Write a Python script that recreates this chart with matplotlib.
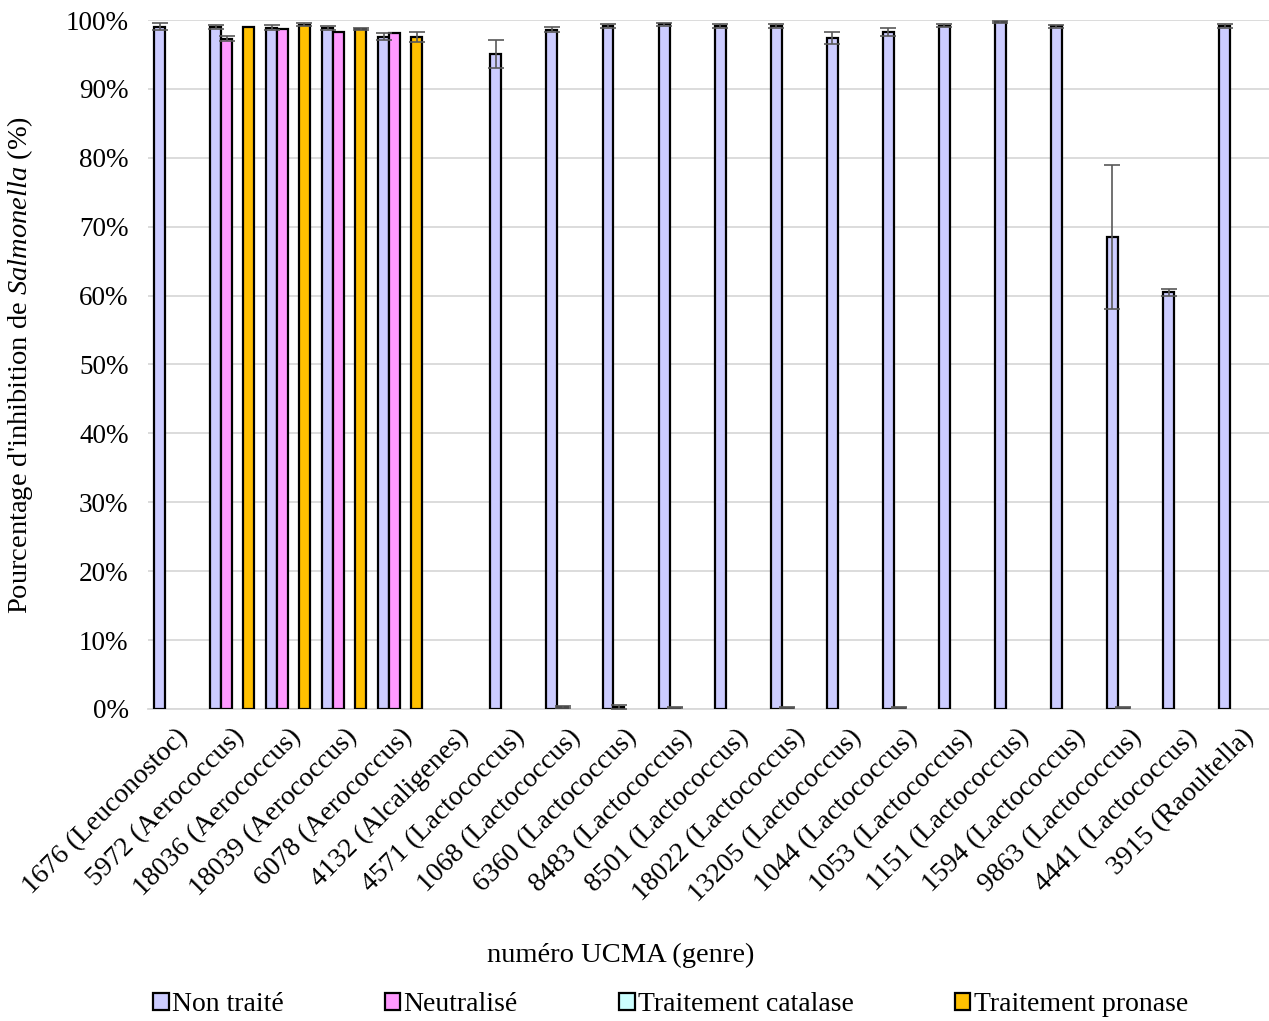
import numpy as np
import matplotlib.pyplot as plt
from matplotlib.ticker import PercentFormatter
from matplotlib.patches import Patch

# ─── Data ────────────────────────────────────────────────────────────────
STRAINS = ["1676 (Leuconostoc)", "5972 (Aerococcus)", "18036 (Aerococcus)",
           "18039 (Aerococcus)", "6078 (Aerococcus)", "4132 (Alcaligenes)",
           "4571 (Lactococcus)", "1068 (Lactococcus)", "6360 (Lactococcus)",
           "8483 (Lactococcus)", "8501 (Lactococcus)", "18022 (Lactococcus)",
           "13205 (Lactococcus)", "1044 (Lactococcus)", "1053 (Lactococcus)",
           "1151 (Lactococcus)", "1594 (Lactococcus)", "9863 (Lactococcus)",
           "4441 (Lactococcus)", "3915 (Raoultella)"]

non_traite     = [99.0, 99.0, 98.9, 98.9, 97.6, 0, 95.1, 98.6, 99.1, 99.4,
                  99.1, 99.1, 97.4, 98.3, 99.2, 99.7, 99.1, 68.5, 60.5, 99.1]
non_traite_err = [0.5, 0.3, 0.4, 0.3, 0.5, 0, 2.0, 0.4, 0.3, 0.2,
                  0.3, 0.3, 0.9, 0.6, 0.2, 0.1, 0.2, 10.5, 0.5, 0.3]

neutralise     = [0, 97.3, 98.7, 98.3, 98.1, 0, 0, 0.3, 0.3, 0.2,
                  0, 0.2, 0, 0.2, 0, 0, 0, 0.2, 0, 0]
neutralise_err = [0, 0.4, 0, 0, 0, 0, 0, 0.1, 0.3, 0.1,
                  0, 0.1, 0, 0.1, 0, 0, 0, 0.05, 0, 0]

catalase       = [0] * 20
catalase_err   = [0] * 20

pronase        = [0, 99.0, 99.3, 98.7, 97.5, 0, 0, 0, 0, 0,
                  0, 0, 0, 0, 0, 0, 0, 0, 0, 0]
pronase_err    = [0, 0, 0.2, 0.2, 0.75, 0, 0, 0, 0, 0,
                  0, 0, 0, 0, 0, 0, 0, 0, 0, 0]

SERIES = [
    ("Non traité", non_traite, non_traite_err, "#CCCCFF"),
    ("Neutralisé", neutralise, neutralise_err, "#FF99FF"),
    ("Traitement catalase", catalase, catalase_err, "#CCFFFF"),
    ("Traitement pronase", pronase, pronase_err, "#FFC000"),
]

plt.rcParams["font.family"] = ["Liberation Serif", "DejaVu Serif"]
plt.rcParams["mathtext.fontset"] = "custom"
plt.rcParams["mathtext.rm"] = "Liberation Serif"
plt.rcParams["mathtext.it"] = "Liberation Serif:italic"


def main():
    fig = plt.figure(figsize=(12.69, 10.21), dpi=100)
    ax = fig.add_axes([0.1166, 0.3056, 0.8834, 0.6748])

    x = np.arange(len(STRAINS))
    width = 0.195
    for i, (name, vals, errs, col) in enumerate(SERIES):
        pos = x + (i - 1.5) * width
        vals = np.array(vals, dtype=float)
        errs = np.array(errs, dtype=float)
        # zero-height bars get no outline (only the axis line shows there)
        lw = np.where(vals > 0, 1.6, 0.0)
        ax.bar(pos, vals, width=width, color=col, edgecolor="black",
               linewidth=lw, zorder=3)
        mask = errs > 0
        ax.errorbar(pos[mask], vals[mask], yerr=errs[mask], fmt="none",
                    ecolor="#595959", elinewidth=1.2, capsize=5.5,
                    capthick=1.2, zorder=4)

    ax.set_xlim(-0.5, len(STRAINS) - 0.5)
    ax.set_ylim(0, 100)
    ax.set_yticks(np.arange(0, 101, 10))
    ax.yaxis.set_major_formatter(PercentFormatter(decimals=0))
    ax.yaxis.grid(True, color="#D9D9D9", linewidth=1.3, zorder=0)
    ax.set_axisbelow(True)
    for s in ["top", "right", "left"]:
        ax.spines[s].set_visible(False)
    ax.spines["bottom"].set_color("#D9D9D9")
    ax.spines["bottom"].set_linewidth(1.3)
    ax.tick_params(length=0, colors="black")
    ax.tick_params(axis="y", pad=14, labelsize=19.5)

    ax.set_xticks(x)
    ax.set_xticklabels(STRAINS, rotation=45, ha="right",
                       rotation_mode="anchor", fontsize=20)
    ax.tick_params(axis="x", pad=11)

    ax.set_ylabel("Pourcentage d'inhibition de $\\it{Salmonella}$ (%)",
                  fontsize=20.5, labelpad=22)
    fig.text(0.489, 0.064, "numéro UCMA (genre)", fontsize=20.5,
             ha="center", va="center")

    handles = [Patch(facecolor=c, edgecolor="black", linewidth=1.6)
               for _, _, _, c in SERIES]
    fig.legend(handles, [s[0] for s in SERIES], ncol=4, frameon=False,
               loc="center left", bbox_to_anchor=(0.112, 0.016),
               fontsize=20, handlelength=0.55, handleheight=0.55,
               handletextpad=0.12, columnspacing=3.65, borderaxespad=0)

    fig.savefig("out.png", dpi=100)


if __name__ == "__main__":
    main()
